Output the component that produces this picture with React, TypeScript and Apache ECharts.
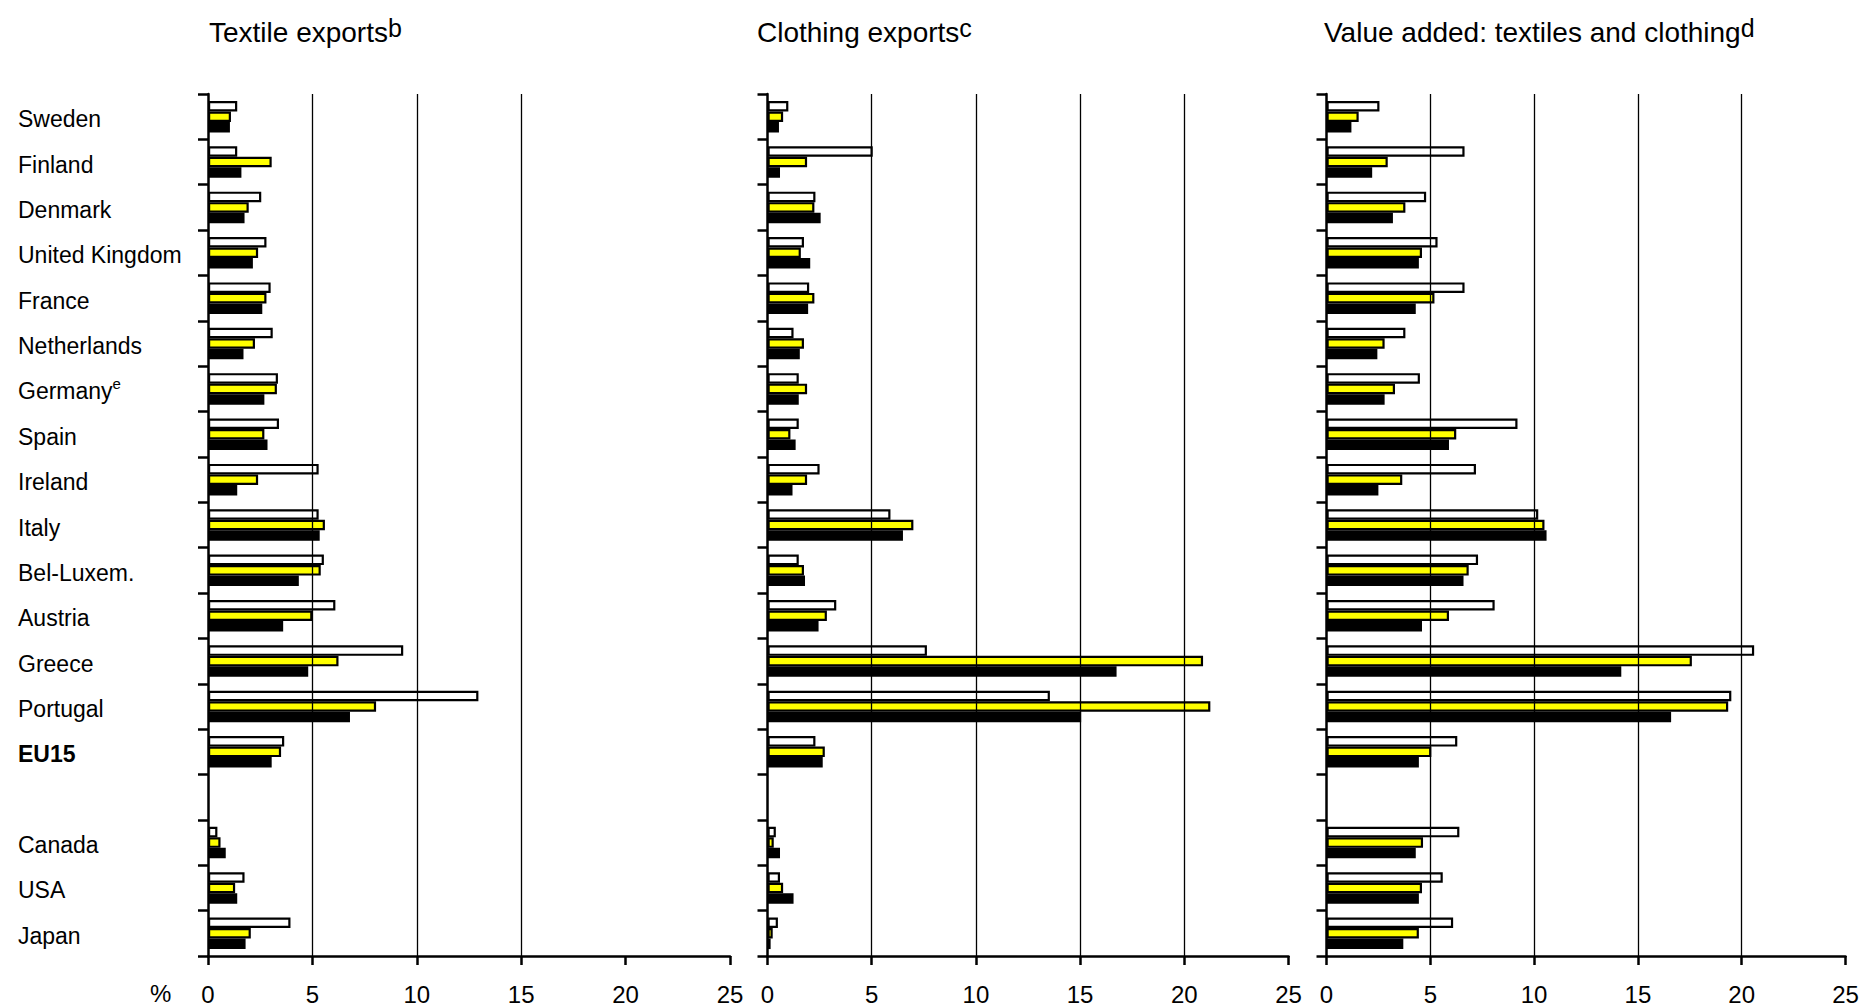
import React, { useEffect, useRef } from "react";
import * as echarts from "echarts";

const categories = [
  "Sweden", "Finland", "Denmark", "United Kingdom", "France", "Netherlands",
  "Germany", "Spain", "Ireland", "Italy", "Bel-Luxem.", "Austria", "Greece",
  "Portugal", "EU15", "", "Canada", "USA", "Japan",
];
const categoryNotes: Record<string, string> = { Germany: "e" };
const boldCategories = ["EU15"];

const panelTitles = ["Textile exports", "Clothing exports", "Value added: textiles and clothing"];
const panelNotes = ["b", "c", "d"];
const xTicks = [0, 5, 10, 15, 20, 25];
const seriesNames = ["White bars", "Yellow bars", "Black bars"];

// Textile exports
const textileWhite = [1.4, 1.4, 2.55, 2.8, 3.0, 3.1, 3.35, 3.4, 5.3, 5.3, 5.55, 6.1, 9.35, 12.95, 3.65, null, 0.45, 1.75, 3.95];
const textileYellow = [1.1, 3.05, 1.95, 2.4, 2.8, 2.25, 3.3, 2.7, 2.4, 5.6, 5.4, 5.0, 6.25, 8.05, 3.5, null, 0.6, 1.3, 2.05];
const textileBlack = [1.05, 1.6, 1.75, 2.15, 2.6, 1.7, 2.7, 2.85, 1.4, 5.35, 4.35, 3.6, 4.8, 6.8, 3.05, null, 0.85, 1.4, 1.8];

// Clothing exports
const clothingWhite = [1.0, 5.05, 2.3, 1.75, 2.0, 1.25, 1.5, 1.5, 2.5, 5.9, 1.5, 3.3, 7.65, 13.55, 2.3, null, 0.4, 0.6, 0.5];
const clothingYellow = [0.75, 1.9, 2.25, 1.6, 2.25, 1.75, 1.9, 1.1, 1.9, 7.0, 1.75, 2.85, 20.9, 21.25, 2.75, null, 0.3, 0.75, 0.25];
const clothingBlack = [0.55, 0.6, 2.55, 2.05, 1.95, 1.55, 1.5, 1.35, 1.2, 6.5, 1.8, 2.45, 16.75, 15.05, 2.65, null, 0.6, 1.25, 0.15];

// Value added: textiles and clothing
const valueWhite = [2.55, 6.65, 4.8, 5.35, 6.65, 3.8, 4.5, 9.2, 7.2, 10.2, 7.3, 8.1, 20.6, 19.5, 6.3, null, 6.4, 5.6, 6.1];
const valueYellow = [1.55, 2.95, 3.8, 4.6, 5.2, 2.8, 3.3, 6.25, 3.65, 10.5, 6.85, 5.9, 17.6, 19.35, 5.05, null, 4.65, 4.6, 4.45];
const valueBlack = [1.2, 2.2, 3.2, 4.45, 4.3, 2.45, 2.8, 5.9, 2.5, 10.6, 6.6, 4.6, 14.2, 16.6, 4.45, null, 4.3, 4.45, 3.7];

const panelData = [
  [textileWhite, textileYellow, textileBlack],
  [clothingWhite, clothingYellow, clothingBlack],
  [valueWhite, valueYellow, valueBlack],
];

const FONT = "'Liberation Sans', Arial, Helvetica, sans-serif";
const barFills = ["#ffffff", "#ffff00", "#000000"];

const gridBoxes = [
  { left: 208, width: 522 },
  { left: 767.5, width: 521 },
  { left: 1326.5, width: 519 },
];
const GRID_TOP = 94;
const GRID_HEIGHT = 862;
const titleLefts = [209, 757, 1324];

export default function App() {
  const ref = useRef<HTMLDivElement>(null);

  useEffect(() => {
    if (!ref.current) return;
    const chart = echarts.init(ref.current, null, { renderer: "svg" });

    const grids = gridBoxes.map((g) => ({
      left: g.left,
      top: GRID_TOP,
      width: g.width,
      height: GRID_HEIGHT,
      containLabel: false,
    }));

    const xAxes = gridBoxes.map((_, i) => ({
      type: "value",
      gridIndex: i,
      min: xTicks[0],
      max: xTicks[xTicks.length - 1],
      interval: xTicks[1] - xTicks[0],
      z: 5,
      axisLine: { show: true, lineStyle: { color: "#000", width: 2.5 } },
      axisTick: { show: true, inside: false, length: 9, lineStyle: { color: "#000", width: 2.5 } },
      axisLabel: { color: "#000", fontSize: 24, fontFamily: FONT, margin: 26 },
      splitLine: {
        show: true,
        showMinLine: false,
        showMaxLine: false,
        lineStyle: {
          color: i === 0 ? ["#000", "#000", "#000", "rgba(0,0,0,0)"] : ["#000"],
          width: 1.3,
        },
      },
    }));

    const yAxes = gridBoxes.map((_, i) => ({
      type: "category",
      gridIndex: i,
      data: categories,
      inverse: true,
      boundaryGap: true,
      axisLine: { show: true, lineStyle: { color: "#000", width: 2.5 } },
      axisTick: { show: true, inside: false, length: 10, alignWithLabel: false, lineStyle: { color: "#000", width: 2.5 } },
      splitLine: { show: false },
      axisLabel: {
        show: i === 0,
        interval: 0,
        align: "left",
        margin: 190,
        color: "#000",
        fontSize: 23,
        fontFamily: FONT,
        formatter: (v: string) => {
          if (boldCategories.includes(v)) return "{b|" + v + "}";
          if (categoryNotes[v]) return "{n|" + v + "}{s|" + categoryNotes[v] + "}";
          return v === "" ? "" : "{n|" + v + "}";
        },
        rich: {
          n: { fontSize: 23, fontFamily: FONT, color: "#000", lineHeight: 26, padding: [5, 0, 0, 0] },
          b: { fontSize: 23, fontFamily: FONT, color: "#000", fontWeight: "bold", lineHeight: 26, padding: [5, 0, 0, 0] },
          s: { fontSize: 15, fontFamily: FONT, color: "#000", lineHeight: 15, verticalAlign: "top" },
        },
      },
    }));

    const series: any[] = [];
    panelData.forEach((arrs, p) => {
      arrs.forEach((arr, s) => {
        series.push({
          type: "bar",
          name: seriesNames[s],
          xAxisIndex: p,
          yAxisIndex: p,
          data: arr,
          barWidth: 10.5,
          barGap: "0%",
          itemStyle: { color: barFills[s], borderColor: "#000", borderWidth: 2.2 },
          emphasis: { disabled: true },
          z: 2,
        });
      });
    });

    const titles = panelTitles.map((t, i) => ({
      text: t + "{s|" + panelNotes[i] + "}",
      left: titleLefts[i],
      top: 15,
      padding: 0,
      textStyle: {
        color: "#000",
        fontSize: 28,
        fontWeight: "normal",
        fontFamily: FONT,
        lineHeight: 34,
        rich: {
          s: { fontSize: 25, fontFamily: FONT, color: "#000", lineHeight: 24, verticalAlign: "top" },
        },
      },
    }));

    chart.setOption({
      animation: false,
      backgroundColor: "#ffffff",
      title: titles,
      grid: grids,
      xAxis: xAxes,
      yAxis: yAxes,
      series,
      graphic: [
        {
          type: "text",
          left: 150,
          top: 981,
          style: { text: "%", fontSize: 24, fontFamily: FONT, fill: "#000" },
        },
      ],
    });

    return () => chart.dispose();
  }, []);

  return (
    <div
      ref={ref}
      style={{ position: "absolute", left: 0, top: 0, width: 1863, height: 1006, background: "#fff" }}
    />
  );
}
